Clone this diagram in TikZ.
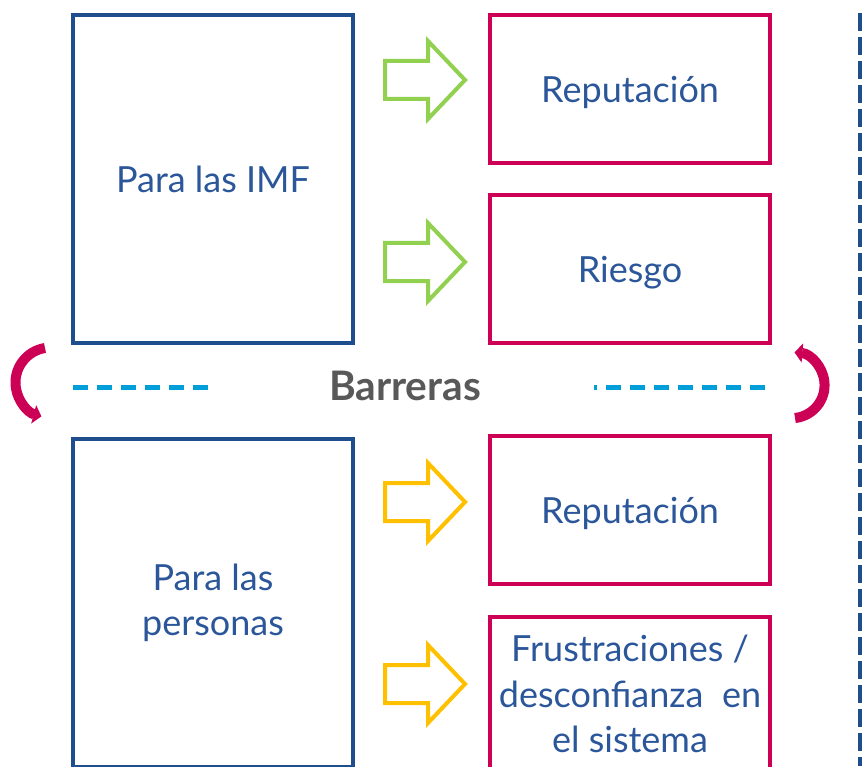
\documentclass[tikz,border=0pt]{standalone}
\usepackage{fontspec}
\setmainfont{Lato}
\usetikzlibrary{arrows.meta}

\definecolor{imfblue}{HTML}{1F4E8F}
\definecolor{textblue}{HTML}{2B579A}
\definecolor{riskred}{HTML}{CC0055}
\definecolor{arrowgreen}{HTML}{92D050}
\definecolor{arrowyellow}{HTML}{FFC000}
\definecolor{dashcyan}{HTML}{009FDA}
\definecolor{labelgray}{HTML}{595959}

\tikzset{
    boxtext/.style={text=textblue, font=\fontsize{27}{34}\selectfont, align=center},
    groupbox/.style={draw=imfblue, line width=3pt, minimum width=210pt, minimum height=246pt, boxtext},
    effectbox/.style={draw=riskred, line width=3pt, minimum width=210pt, minimum height=111pt, boxtext},
    pics/blockarrow/.style={code={
        \draw[line width=3pt, line join=miter, draw=#1]
            (-40,-19) -- (3,-19) -- (3,-39) -- (40,0) -- (3,39) -- (3,19) -- (-40,19) -- cycle;
    }},
    barrierline/.style={draw=dashcyan, line width=3.75pt, dash pattern=on 11.25pt off 6.75pt},
    turnarrow/.style={draw=riskred, line width=7.5pt, -{Triangle[length=6pt,width=14pt]}},
}

\begin{document}
\begin{tikzpicture}[x=0.75pt, y=-0.75pt]
    \useasboundingbox (0,0) rectangle (862,766);

    % Groups
    \node[groupbox] (imf)      at (213,179) {Para las IMF};
    \node[groupbox] (personas) at (213,603) {Para las\\personas};

    % Effects
    \node[effectbox, text depth=0pt] (rep1) at (630,89)  {Reputación};
    \node[effectbox, text depth=0pt] (risk) at (630,269) {Riesgo};
    \node[effectbox, text depth=0pt] (rep2) at (630,510) {Reputación};
    \node[effectbox, minimum height=115.5pt] (frust) at (630,694) {Frustraciones /\\desconfianza~~en\\el sistema};

    % Block arrows
    \pic at (425,80)  {blockarrow=arrowgreen};
    \pic at (425,262) {blockarrow=arrowgreen};
    \pic at (425,502) {blockarrow=arrowyellow};
    \pic at (425,684) {blockarrow=arrowyellow};

    % Barrier
    \node[text=labelgray, font=\fontsize{30.5}{36}\selectfont\bfseries] (barr) at (405,386) {Barreras};
    \coordinate (bl1) at (73,387);
    \coordinate (bl2) at (211,387);
    \coordinate (br1) at (594,387);
    \coordinate (br2) at (772,387);
    \draw[barrierline] (bl1) -- (bl2);
    \draw[barrierline, dash phase=9pt] (br1) -- (br2);

    % Turning arrows
    \coordinate (tl) at (45,348);
    \coordinate (tr) at (795,418);
    \draw[turnarrow] (tl) arc[start angle=261, end angle=105, radius=35];
    \draw[turnarrow] (tr) arc[start angle=84, end angle=-85, radius=33];

    % Divider
    \coordinate (dtop) at (860,13);
    \coordinate (dbot) at (860,766);
    \draw[draw=imfblue, line width=3pt, dash pattern=on 13.5pt off 4.5pt] (dtop) -- (dbot);
\end{tikzpicture}
\end{document}
